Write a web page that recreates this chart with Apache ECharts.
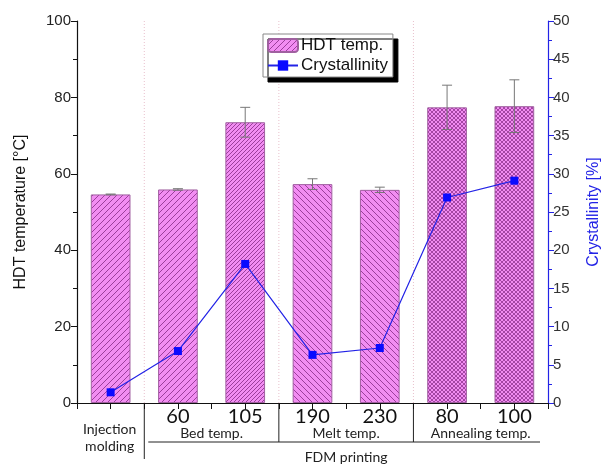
<!DOCTYPE html>
<html>
<head>
<meta charset="utf-8">
<script src="https://cdn.jsdelivr.net/npm/echarts@6/dist/echarts.min.js"></script>
<style>
  html, body { margin: 0; padding: 0; background: #fff; }
  #chart { width: 602px; height: 464px; }
</style>
</head>
<body>
<div id="chart"></div>
<script>
// data
const categories = ['', '60', '105', '190', '230', '80', '100'];
const hdtTemp = [54.6, 55.9, 73.5, 57.3, 55.8, 77.4, 77.7];
const hdtError = [0.1, 0.2, 3.9, 1.4, 0.7, 5.8, 6.9];
const crystallinity = [1.4, 6.8, 18.2, 6.3, 7.2, 26.9, 29.1];
const groupLabels = ['Bed temp.', 'Melt temp.', 'Annealing temp.'];
const hatchKinds = ['/', '/', '//', '\\', '\\', 'x', 'x'];

const PINK = '#f28df2';
const HATCH = '#9c3e9c';
const BLUE = '#2323e6';

function makeHatch(kind) {
  const step = kind === '/' || kind === '\\' ? 6 : 4;
  const c = document.createElement('canvas');
  c.width = c.height = step;
  const g = c.getContext('2d');
  g.fillStyle = PINK;
  g.fillRect(0, 0, step, step);
  g.strokeStyle = HATCH;
  g.lineWidth = kind === 'x' ? 0.9 : 1;
  g.beginPath();
  if (kind === '/' || kind === '//' || kind === 'x') {
    g.moveTo(-1, step + 1); g.lineTo(step + 1, -1);
    g.moveTo(-1, 1); g.lineTo(1, -1);
    g.moveTo(step - 1, step + 1); g.lineTo(step + 1, step - 1);
  }
  if (kind === '\\' || kind === 'x') {
    g.moveTo(-1, -1); g.lineTo(step + 1, step + 1);
    g.moveTo(step - 1, -1); g.lineTo(step + 1, 1);
    g.moveTo(-1, step - 1); g.lineTo(1, step + 1);
  }
  g.stroke();
  return { image: c, repeat: 'repeat' };
}

const chart = echarts.init(document.getElementById('chart'), null, { renderer: 'canvas' });

const axisFont = { fontFamily: 'Liberation Sans', fontSize: 15, color: '#222' };

chart.setOption({
  animation: false,
  backgroundColor: '#fff',
  grid: { left: 77, right: 54, top: 21, bottom: 61, outerBoundsMode: 'none' },
  legend: {
    data: ['HDT temp.', 'Crystallinity'],
    orient: 'vertical',
    left: 263,
    top: 34,
    padding: [3, 5, 3, 4],
    itemGap: 3,
    itemWidth: 30,
    itemHeight: 13,
    backgroundColor: '#fff',
    borderColor: '#888',
    borderWidth: 1,
    shadowColor: '#000',
    shadowBlur: 0,
    shadowOffsetX: 5,
    shadowOffsetY: 5,
    textStyle: { fontFamily: 'Liberation Sans', fontSize: 17, color: '#111', padding: [0, 0, 0, -2] }
  },
  xAxis: [
    {
      type: 'category',
      data: categories,
      position: 'bottom',
      axisLine: { lineStyle: { color: '#111', width: 1.2 } },
      axisTick: { length: 5, lineStyle: { color: '#111' } },
      axisLabel: { fontFamily: 'Lato', fontSize: 20, color: '#111', margin: 4 }
    },
    {
      type: 'value',
      position: 'top',
      min: 0,
      max: 14,
      interval: 1,
      axisLine: { show: true, lineStyle: { color: '#111', width: 1.2 } },
      axisTick: { show: true, inside: true, length: 6, lineStyle: { color: '#111' } },
      axisLabel: { show: false },
      splitLine: { show: false }
    }
  ],
  yAxis: [
    {
      type: 'value',
      min: 0,
      max: 100,
      interval: 20,
      name: 'HDT temperature [°C]',
      nameLocation: 'middle',
      nameGap: 48,
      nameTextStyle: { fontFamily: 'Liberation Sans', fontSize: 16, color: '#111' },
      axisLine: { show: true, lineStyle: { color: '#111', width: 1.2 } },
      axisTick: { show: true, length: 6, lineStyle: { color: '#111' } },
      minorTick: { show: true, splitNumber: 2, length: 4, lineStyle: { color: '#111' } },
      axisLabel: Object.assign({ margin: 6 }, axisFont),
      splitLine: { show: false }
    },
    {
      type: 'value',
      min: 0,
      max: 50,
      interval: 5,
      position: 'right',
      name: 'Crystallinity [%]',
      nameLocation: 'middle',
      nameGap: 38,
      nameRotate: 90,
      nameTextStyle: { fontFamily: 'Liberation Sans', fontSize: 16, color: BLUE },
      axisLine: { show: true, lineStyle: { color: BLUE, width: 1.2 } },
      axisTick: { show: true, length: 6, lineStyle: { color: BLUE } },
      minorTick: { show: true, splitNumber: 2, length: 4, lineStyle: { color: BLUE } },
      axisLabel: Object.assign({ margin: 5 }, axisFont, { color: '#333' }),
      splitLine: { show: false }
    }
  ],
  series: [
    {
      name: 'HDT temp.',
      type: 'bar',
      barWidth: '59%',
      itemStyle: { color: makeHatch('/'), borderColor: '#a060a0', borderWidth: 1 },
      data: hdtTemp.map((v, i) => ({ value: v, itemStyle: { color: makeHatch(hatchKinds[i]) } })),
      z: 2
    },
    {
      name: 'HDT error',
      type: 'custom',
      data: hdtTemp.map((v, i) => [i, v - hdtError[i], v + hdtError[i]]),
      renderItem(params, api) {
        const lo = api.coord([api.value(0), api.value(1)]);
        const hi = api.coord([api.value(0), api.value(2)]);
        const w = 5;
        const st = { stroke: '#777', lineWidth: 1 };
        return {
          type: 'group',
          children: [
            { type: 'line', shape: { x1: lo[0], y1: lo[1], x2: hi[0], y2: hi[1] }, style: st },
            { type: 'line', shape: { x1: hi[0] - w, y1: hi[1], x2: hi[0] + w, y2: hi[1] }, style: st },
            { type: 'line', shape: { x1: lo[0] - w, y1: lo[1], x2: lo[0] + w, y2: lo[1] }, style: st }
          ]
        };
      },
      z: 3
    },
    {
      name: 'Crystallinity',
      type: 'line',
      yAxisIndex: 1,
      data: crystallinity,
      symbol: 'rect',
      symbolSize: 8,
      lineStyle: { color: BLUE, width: 1.2 },
      itemStyle: { color: '#0a0aff' },
      z: 5
    }
  ]
});

// bottom annotation: separators, group labels
const centers = categories.map((_, i) => chart.convertToPixel({ xAxisIndex: 0 }, i));
const half = (centers[1] - centers[0]) / 2;
const bnd = centers.map(c => c + half);
const y0 = chart.convertToPixel({ yAxisIndex: 0 }, 0);
const yTop = chart.convertToPixel({ yAxisIndex: 0 }, 100);
const rightEdge = centers[centers.length - 1] + half;
const lineY = y0 + 39;
const txt = (x, y, s) => ({
  type: 'text', x, y,
  style: { text: s, fontFamily: 'Lato', fontSize: 14, fill: '#222', align: 'center', verticalAlign: 'middle' }
});

const graphics = [];
[0, 2, 4].forEach(k => {
  graphics.push({
    type: 'line', silent: true, z: 1,
    shape: { x1: bnd[k], y1: yTop, x2: bnd[k], y2: y0 },
    style: { stroke: '#e8c0cc', lineWidth: 1, lineDash: [1, 2] }
  });
  graphics.push({
    type: 'line', silent: true,
    shape: { x1: bnd[k], y1: y0, x2: bnd[k], y2: k === 0 ? y0 + 56 : lineY },
    style: { stroke: '#222', lineWidth: 1 }
  });
});
graphics.push({
  type: 'line', silent: true,
  shape: { x1: bnd[0] + 4, y1: lineY, x2: rightEdge - 8, y2: lineY },
  style: { stroke: '#222', lineWidth: 1 }
});
groupLabels.forEach((s, k) => {
  graphics.push(txt((centers[1 + 2 * k] + centers[2 + 2 * k]) / 2, y0 + 30, s));
});
graphics.push(txt(centers[0] - 1, y0 + 26, 'Injection'));
graphics.push(txt(centers[0] - 1, y0 + 43, 'molding'));
graphics.push(txt((bnd[0] + rightEdge) / 2, y0 + 54, 'FDM printing'));

chart.setOption({ graphic: graphics });
</script>
</body>
</html>
